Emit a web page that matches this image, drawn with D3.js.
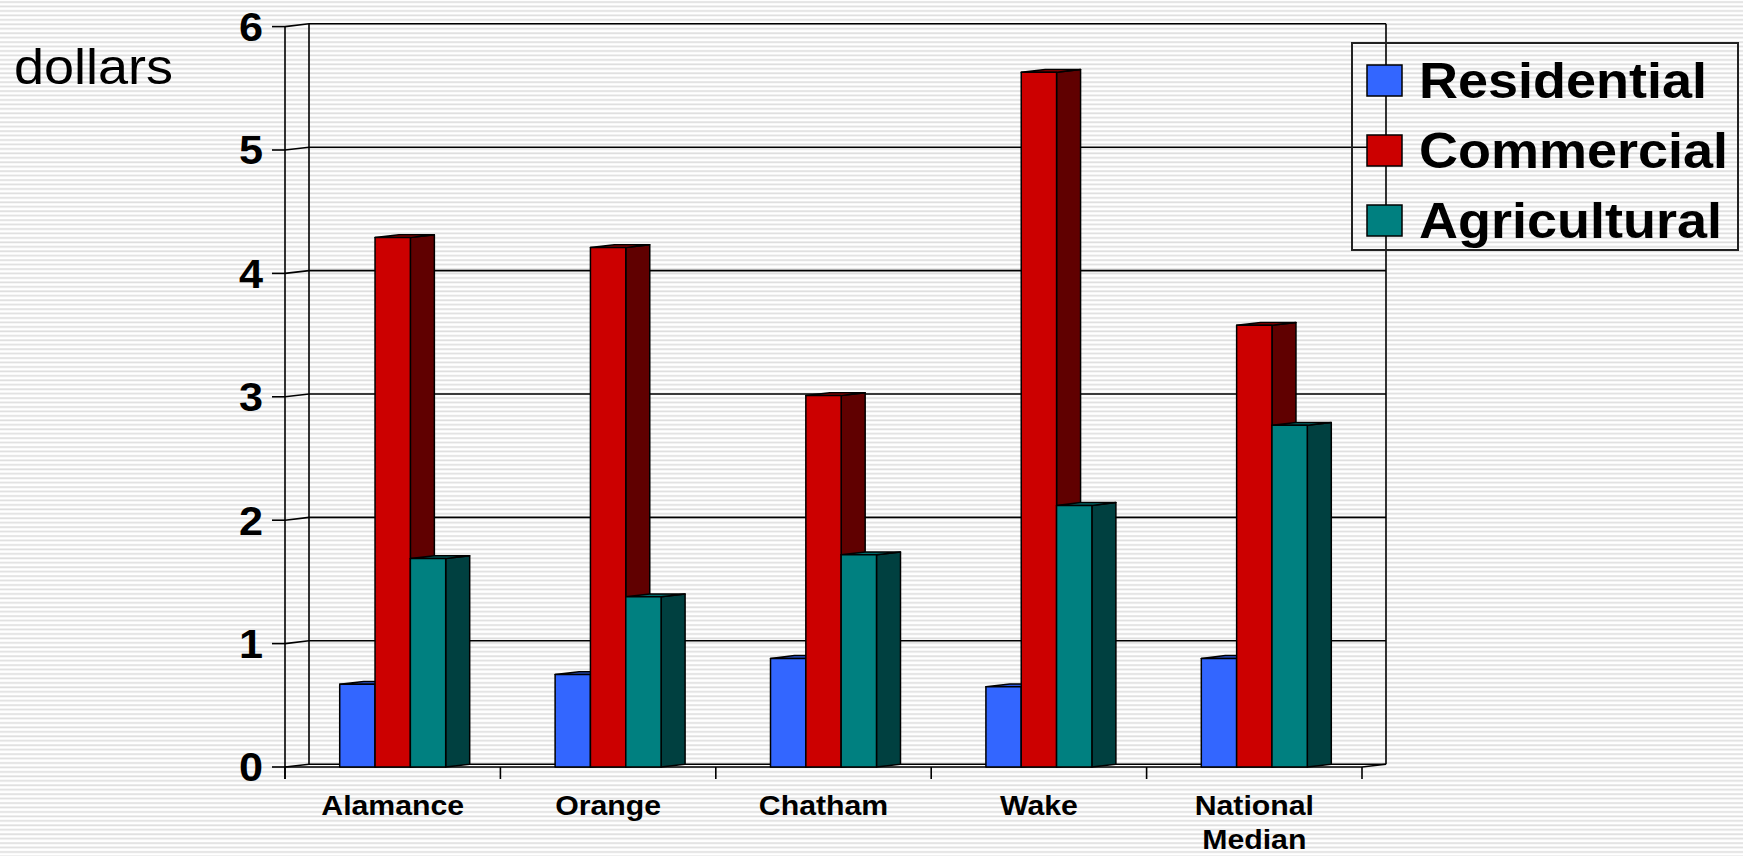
<!DOCTYPE html>
<html>
<head>
<meta charset="utf-8">
<script src="https://cdn.jsdelivr.net/npm/d3@7"></script>
<style>
  html, body { margin: 0; padding: 0; background: #fff; }
  svg { display: block; }
  text { font-family: "Liberation Sans", Arial, sans-serif; fill: #000; }
</style>
</head>
<body>
<svg id="chart" width="1743" height="856"></svg>
<script>
// values (dollars)
var categories = ["Alamance", "Orange", "Chatham", "Wake", "National Median"];
var seriesNames = ["Residential", "Commercial", "Agricultural"];
var residential = [0.67, 0.75, 0.88, 0.65, 0.88];
var commercial = [4.29, 4.21, 3.01, 5.63, 3.58];
var agricultural = [1.69, 1.38, 1.72, 2.12, 2.77];
var yTicks = [0, 1, 2, 3, 4, 5, 6];

var frontColors = ["#3366ff", "#cc0000", "#008080"];
var sideColors = ["#1a3380", "#600000", "#004040"];
var topColors = ["#2c58dd", "#a00000", "#006a6a"];

var W = 1743, H = 856;
var DX = 24, DY = -2.8;   // depth of the 3d floor / bars
var STRETCH = 1.08;       // text in the picture is a bit wide

var svg = d3.select("#chart");

// striped slide background
var defs = svg.append("defs");
var pat = defs.append("pattern")
  .attr("id", "stripes")
  .attr("patternUnits", "userSpaceOnUse")
  .attr("width", 8).attr("height", 4.45);
pat.append("rect").attr("width", 8).attr("height", 4.45).attr("fill", "#ffffff");
pat.append("rect").attr("y", 1.2).attr("width", 8).attr("height", 1.7).attr("fill", "#dedede");
svg.append("rect").attr("width", W).attr("height", H).attr("fill", "url(#stripes)");

var x = d3.scaleBand().domain(categories).range([285, 1362]);
var y = d3.scaleLinear().domain([0, 6]).range([767, 26.6]);
var bw = x.bandwidth() * 0.164;
var xs = d3.scaleBand().domain(seriesNames).range([0, 3 * bw]);
var groupOff = (x.bandwidth() - 3 * bw) / 2;

var x0 = x.range()[0], x1 = x.range()[1];
var y0 = y(0), yTop = y(6);

function stretchedText(g, str, tx, ty, anchor) {
  return g.append("text")
    .attr("transform", "translate(" + tx + "," + ty + ") scale(" + STRETCH + ",1)")
    .attr("text-anchor", anchor || "start")
    .text(str);
}

var frame = svg.append("g")
  .attr("fill", "none")
  .attr("stroke", "#000")
  .attr("stroke-width", 1.6);

// back wall gridlines, left wall lines and ticks
yTicks.forEach(function(t) {
  frame.append("line").attr("x1", x0 + DX).attr("x2", x1 + DX)
    .attr("y1", y(t) + DY).attr("y2", y(t) + DY);
  frame.append("line").attr("x1", x0).attr("x2", x0 + DX)
    .attr("y1", y(t)).attr("y2", y(t) + DY);
  frame.append("line").attr("x1", x0 - 13).attr("x2", x0)
    .attr("y1", y(t)).attr("y2", y(t));
});
// wall verticals
frame.append("line").attr("x1", x0 + DX).attr("x2", x0 + DX).attr("y1", yTop + DY).attr("y2", y0 + DY);
frame.append("line").attr("x1", x1 + DX).attr("x2", x1 + DX).attr("y1", yTop + DY).attr("y2", y0 + DY);
frame.append("line").attr("x1", x0).attr("x2", x0).attr("y1", yTop).attr("y2", y0 + 12);
// floor
frame.append("line").attr("x1", x0).attr("x2", x1).attr("y1", y0).attr("y2", y0);
frame.append("line").attr("x1", x1).attr("x2", x1 + DX).attr("y1", y0).attr("y2", y0 + DY);
// category ticks
categories.map(function(c) { return x(c); }).concat([x1]).forEach(function(px) {
  frame.append("line").attr("x1", px).attr("x2", px).attr("y1", y0).attr("y2", y0 + 12);
});

// bars, painted left to right
var seriesValues = [residential, commercial, agricultural];
var bars = svg.append("g").attr("stroke", "#000").attr("stroke-width", 1.5).attr("stroke-linejoin", "round");
categories.forEach(function(cat, ci) {
  seriesNames.forEach(function(s, si) {
    var v = seriesValues[si][ci];
    var bx = x(cat) + groupOff + xs(s);
    var by = y(v);
    var g = bars.append("g");
    // side face
    g.append("path")
      .attr("d", "M" + (bx + bw) + "," + y0 + "L" + (bx + bw + DX) + "," + (y0 + DY) +
        "L" + (bx + bw + DX) + "," + (by + DY) + "L" + (bx + bw) + "," + by + "Z")
      .attr("fill", sideColors[si]);
    // top face
    g.append("path")
      .attr("d", "M" + bx + "," + by + "L" + (bx + DX) + "," + (by + DY) +
        "L" + (bx + bw + DX) + "," + (by + DY) + "L" + (bx + bw) + "," + by + "Z")
      .attr("fill", topColors[si]);
    // front face
    g.append("rect")
      .attr("x", bx).attr("y", by)
      .attr("width", bw).attr("height", y0 - by)
      .attr("fill", frontColors[si]);
  });
});

// value axis labels
var ylab = svg.append("g").attr("font-size", 40).attr("font-weight", "bold");
yTicks.forEach(function(t) {
  stretchedText(ylab, d3.format("d")(t), 263, y(t) + 14.3, "end");
});

// category labels
var xlab = svg.append("g").attr("font-size", 28).attr("font-weight", "bold");
categories.forEach(function(cat) {
  var cx = x(cat) + x.bandwidth() / 2;
  var words = cat === "National Median" ? ["National", "Median"] : [cat];
  words.forEach(function(w, i) {
    stretchedText(xlab, w, cx, 815 + i * 34, "middle");
  });
});

// unit label
stretchedText(svg.append("g").attr("font-size", 50), "dollars", 14, 84, "start");

// legend
var leg = svg.append("g");
leg.append("rect").attr("x", 1352).attr("y", 43).attr("width", 386).attr("height", 207)
  .attr("fill", "none").attr("stroke", "#222").attr("stroke-width", 2);
seriesNames.forEach(function(s, i) {
  leg.append("rect").attr("x", 1367).attr("y", 65 + i * 70).attr("width", 35).attr("height", 31)
    .attr("fill", frontColors[i]).attr("stroke", "#000").attr("stroke-width", 1.5);
  stretchedText(leg.append("g").attr("font-size", 50).attr("font-weight", "bold"), s, 1419, 98 + i * 70, "start");
});
</script>
</body>
</html>
